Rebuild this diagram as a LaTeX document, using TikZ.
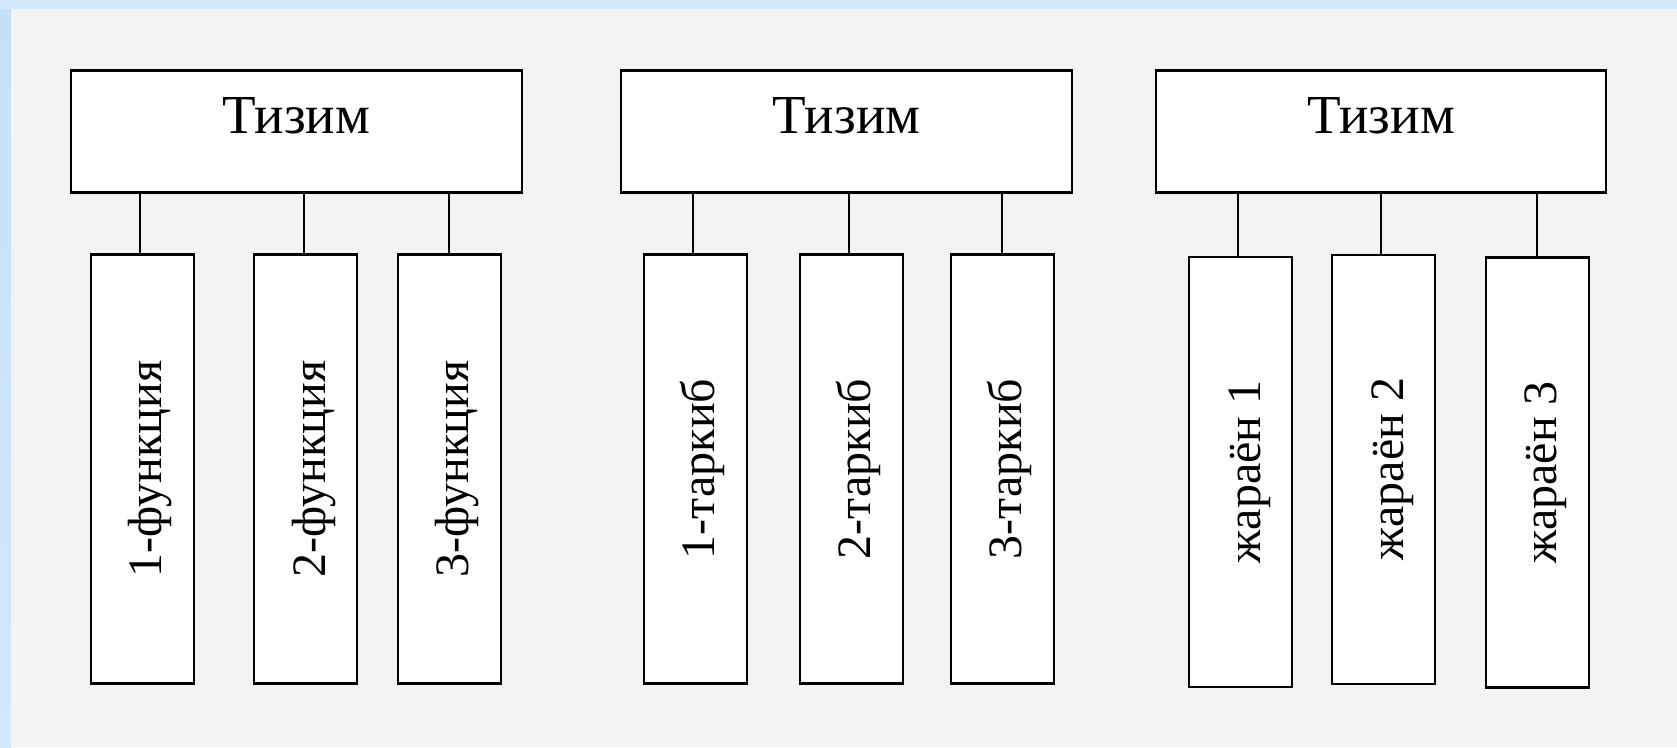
\documentclass[tikz,border=0pt]{standalone}
\usepackage{fontspec}
\setmainfont{Liberation Serif}
\definecolor{bgblue}{HTML}{C4E0F8}
\definecolor{bgtop}{HTML}{D2E9FB}
\definecolor{panel}{HTML}{F3F3F3}
\newcommand{\vtext}[1]{\rotatebox{90}{\raisebox{0pt}[39pt][0pt]{#1}}}
\tikzset{
  box/.style={draw=black, line width=2.2pt, fill=white, rectangle, inner sep=0pt},
  topbox/.style={box, minimum width=451pt, minimum height=122pt,
    font=\fontsize{55}{60}\selectfont, text height=20pt, text depth=17pt},
  childbox/.style={box, minimum width=103pt, minimum height=429pt,
    font=\fontsize{48}{54}\selectfont},
  conn/.style={draw=black, line width=2.2pt}
}
\begin{document}
\begin{tikzpicture}[x=1pt,y=-1pt]
\useasboundingbox (0,0) rectangle (1677,747);
\fill[bgtop] (0,0) rectangle (1677,747);
\shade[top color=bgblue, bottom color=bgtop] (0,9) rectangle (11,747);
\fill[panel] (11,9) rectangle (1677,747);

% top boxes
\node[topbox] (t1) at (296.25,131.5) {Тизим};
\node[topbox] (t2) at (846.5,131.5) {Тизим};
\node[topbox, minimum width=450pt] (t3) at (1381,131.5) {Тизим};

% group 1
\node[childbox] (a1) at (142.25,469) {\vtext{1-функция}};
\node[childbox] (a2) at (305.85,469) {\vtext{2-функция}};
\node[childbox] (a3) at (449.2,469) {\vtext{3-функция}};
% group 2
\node[childbox] (b1) at (695.15,469) {\vtext{1-таркиб}};
\node[childbox] (b2) at (851.35,469) {\vtext{2-таркиб}};
\node[childbox] (b3) at (1002.15,469) {\vtext{3-таркиб}};
% group 3
\node[childbox, minimum height=430pt] (c1) at (1240.7,472) {\vtext{жараён 1}};
\node[childbox, minimum height=429pt] (c2) at (1383.8,469.3) {\vtext{жараён 2}};
\node[childbox, minimum height=430pt] (c3) at (1537.2,472.4) {\vtext{жараён 3}};

% connectors
\draw[conn] ([xshift=-2pt]a1.north) -- ([xshift=-2pt]a1.north |- t1.south);
\draw[conn] ([xshift=-2pt]a2.north) -- ([xshift=-2pt]a2.north |- t1.south);
\draw[conn] (a3.north) -- (a3.north |- t1.south);
\draw[conn] ([xshift=-2pt]b1.north) -- ([xshift=-2pt]b1.north |- t2.south);
\draw[conn] ([xshift=-2pt]b2.north) -- ([xshift=-2pt]b2.north |- t2.south);
\draw[conn] (b3.north) -- (b3.north |- t2.south);
\draw[conn] ([xshift=-3pt]c1.north) -- ([xshift=-3pt]c1.north |- t3.south);
\draw[conn] ([xshift=-3pt]c2.north) -- ([xshift=-3pt]c2.north |- t3.south);
\draw[conn] (c3.north) -- (c3.north |- t3.south);
\end{tikzpicture}
\end{document}
